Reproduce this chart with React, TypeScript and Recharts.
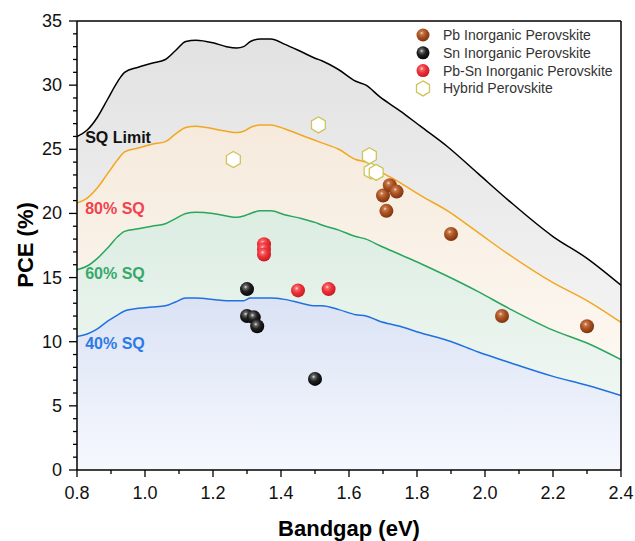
import React from "react"
import {
  ComposedChart,
  Area,
  Scatter,
  XAxis,
  YAxis,
  ReferenceLine,
  ReferenceDot,
  Legend,
  Label,
} from "recharts"

// SQ limit curve and its 80/60/40 % fractions
const bandgap = [0.8, 0.83, 0.86, 0.89, 0.92, 0.94, 0.98, 1.02, 1.06, 1.09, 1.12, 1.15, 1.2, 1.24, 1.27, 1.29, 1.31, 1.34, 1.37, 1.41, 1.46, 1.5, 1.52, 1.57, 1.62, 1.65, 1.69, 1.75, 1.81, 1.89, 1.98, 2.07, 2.2, 2.3, 2.4]
const sqLimit = [26.0, 26.5, 27.5, 28.9, 30.3, 31.0, 31.4, 31.7, 32.0, 32.7, 33.4, 33.5, 33.3, 33.0, 32.9, 33.0, 33.4, 33.6, 33.6, 33.2, 32.6, 32.1, 31.9, 31.2, 30.3, 30.0, 29.1, 28.0, 26.8, 25.2, 23.1, 21.0, 18.2, 16.5, 14.4]
const sq80 = [20.8, 21.2, 22.0, 23.1, 24.2, 24.8, 25.1, 25.4, 25.6, 26.2, 26.7, 26.8, 26.6, 26.4, 26.3, 26.4, 26.7, 26.9, 26.9, 26.6, 26.1, 25.7, 25.5, 25.0, 24.2, 24.0, 23.3, 22.4, 21.4, 20.2, 18.5, 16.8, 14.6, 13.2, 11.5]
const sq60 = [15.6, 15.9, 16.5, 17.3, 18.2, 18.6, 18.8, 19.0, 19.2, 19.6, 20.0, 20.1, 20.0, 19.8, 19.7, 19.8, 20.0, 20.2, 20.2, 19.9, 19.6, 19.3, 19.1, 18.7, 18.2, 18.0, 17.5, 16.8, 16.1, 15.1, 13.9, 12.6, 10.9, 9.9, 8.6]
const sq40 = [10.4, 10.6, 11.0, 11.6, 12.1, 12.4, 12.6, 12.7, 12.8, 13.1, 13.4, 13.4, 13.3, 13.2, 13.2, 13.2, 13.4, 13.4, 13.4, 13.3, 13.0, 12.8, 12.8, 12.5, 12.1, 12.0, 11.6, 11.2, 10.7, 10.1, 9.2, 8.4, 7.3, 6.6, 5.8]

// device points
const pbX = [1.7, 1.72, 1.74, 1.71, 1.9, 2.05, 2.3]
const pbY = [21.4, 22.2, 21.7, 20.2, 18.4, 12.0, 11.2]
const snX = [1.3, 1.3, 1.32, 1.33, 1.5]
const snY = [14.1, 12.0, 11.9, 11.2, 7.1]
const pbSnX = [1.35, 1.35, 1.35, 1.45, 1.54]
const pbSnY = [17.6, 17.2, 16.8, 14.0, 14.1]
const hybridX = [1.26, 1.51, 1.66, 1.665, 1.68]
const hybridY = [24.2, 26.9, 24.5, 23.3, 23.2]

const xTicks = [0.8, 0.9, 1.0, 1.1, 1.2, 1.3, 1.4, 1.5, 1.6, 1.7, 1.8, 1.9, 2.0, 2.1, 2.2, 2.3, 2.4]
const yTicks = Array.from({ length: 36 }, (_, i) => i)

const seriesNames = ["Pb Inorganic Perovskite", "Sn Inorganic Perovskite", "Pb-Sn Inorganic Perovskite", "Hybrid Perovskite"]

const curveData = bandgap.map((x, i) => ({ x, sq: sqLimit[i], sq80: sq80[i], sq60: sq60[i], sq40: sq40[i] }))
const toPoints = (xs: number[], ys: number[]) => xs.map((x, i) => ({ x, y: ys[i] }))

const FONT = '"Liberation Sans", Arial, sans-serif'

function hexPoints(cx: number, cy: number, r: number) {
  const pts: string[] = []
  for (let k = 0; k < 6; k++) {
    const a = (Math.PI / 3) * k - Math.PI / 2
    pts.push(`${cx + r * Math.cos(a)},${cy + r * Math.sin(a)}`)
  }
  return pts.join(" ")
}

const Hex = ({ cx, cy, r = 8 }: any) => (
  <polygon points={hexPoints(cx, cy, r)} fill="#ffffff" stroke="#cdc55a" strokeWidth={1.3} />
)

const Ball = ({ cx, cy, grad, r = 7 }: any) => <circle cx={cx} cy={cy} r={r} fill={`url(#${grad})`} />

const YTick = (props: any) => {
  const { x, y, payload } = props
  const v = payload.value
  const major = v % 5 === 0
  return (
    <g>
      <line x1={x - (major ? 8 : 4)} x2={x} y1={y} y2={y} stroke="#000" strokeWidth={1.3} />
      {major && (
        <text x={x - 15} y={y + 6} textAnchor="end" fontSize={18} fill="#111" fontFamily={FONT}>
          {v}
        </text>
      )}
    </g>
  )
}

const XTick = (props: any) => {
  const { x, y, payload } = props
  const v = payload.value
  const major = Math.round(v * 10) % 2 === 0
  return (
    <g>
      <line x1={x} x2={x} y1={y} y2={y + (major ? 7 : 4)} stroke="#000" strokeWidth={1.3} />
      {major && (
        <text x={x} y={y + 29} textAnchor="middle" fontSize={18} fill="#111" fontFamily={FONT}>
          {v.toFixed(1)}
        </text>
      )}
    </g>
  )
}

const legendKinds = ["ballPb", "ballSn", "ballPbSn", "hex"]

const LegendBox = () => (
  <svg width={220} height={80} style={{ display: "block", overflow: "visible" }}>
    {seriesNames.map((name, i) => (
      <g key={name} transform={`translate(0, ${i * 17.8})`}>
        {legendKinds[i] === "hex" ? <Hex cx={7} cy={9} r={7.5} /> : <Ball cx={7} cy={9} r={6.5} grad={legendKinds[i]} />}
        <text x={27} y={14} fontSize={14} fill="#333" fontFamily={FONT}>
          {name}
        </text>
      </g>
    ))}
  </svg>
)

const curveLabel = (text: string, color: string) => ({
  value: text,
  position: "right" as const,
  offset: 0,
  fill: color,
  fontSize: 16,
  fontWeight: "bold",
  fontFamily: FONT,
})

export default function App() {
  return (
    <div style={{ position: "absolute", left: 8, top: 8, width: 627, height: 533 }}>
      <ComposedChart
        width={627}
        height={533}
        data={curveData}
        margin={{ top: 13, right: 14, bottom: 0, left: 0 }}
        style={{ fontFamily: FONT }}
      >
        <defs>
          <linearGradient id="gSq" x1="0" y1="0" x2="0" y2="1">
            <stop offset="0%" stopColor="#e2e2e2" />
            <stop offset="60%" stopColor="#f1f1f1" />
            <stop offset="100%" stopColor="#fafafa" />
          </linearGradient>
          <linearGradient id="g80" x1="0" y1="0" x2="0" y2="1">
            <stop offset="0%" stopColor="#f5eadc" />
            <stop offset="60%" stopColor="#fcf6ef" />
            <stop offset="100%" stopColor="#fefbf8" />
          </linearGradient>
          <linearGradient id="g60" x1="0" y1="0" x2="0" y2="1">
            <stop offset="0%" stopColor="#dcede2" />
            <stop offset="60%" stopColor="#ecf5ef" />
            <stop offset="100%" stopColor="#f6faf7" />
          </linearGradient>
          <linearGradient id="g40" x1="0" y1="0" x2="0" y2="1">
            <stop offset="0%" stopColor="#dae2f4" />
            <stop offset="100%" stopColor="#f6f8fe" />
          </linearGradient>
          <radialGradient id="ballPb" cx="40%" cy="35%" r="65%">
            <stop offset="0%" stopColor="#f3e4dc" />
            <stop offset="18%" stopColor="#c77a4c" />
            <stop offset="50%" stopColor="#ac5222" />
            <stop offset="100%" stopColor="#7c3410" />
          </radialGradient>
          <radialGradient id="ballSn" cx="40%" cy="35%" r="65%">
            <stop offset="0%" stopColor="#e8e8e8" />
            <stop offset="18%" stopColor="#6a6a6a" />
            <stop offset="50%" stopColor="#222222" />
            <stop offset="100%" stopColor="#050505" />
          </radialGradient>
          <radialGradient id="ballPbSn" cx="40%" cy="35%" r="65%">
            <stop offset="0%" stopColor="#ffe4e4" />
            <stop offset="18%" stopColor="#f56a6e" />
            <stop offset="50%" stopColor="#ee3238" />
            <stop offset="100%" stopColor="#c51b22" />
          </radialGradient>
        </defs>

        <XAxis
          dataKey="x"
          type="number"
          domain={[0.8, 2.4]}
          ticks={xTicks}
          interval={0}
          allowDataOverflow
          height={71}
          tickSize={0}
          tickMargin={0}
          tickLine={false}
          tick={<XTick />}
          axisLine={{ stroke: "#000", strokeWidth: 1.5 }}
        >
          <Label
            content={({ viewBox }: any) => (
              <text
                x={viewBox.x + viewBox.width / 2}
                y={viewBox.y + 66}
                textAnchor="middle"
                fontSize={22}
                fontWeight="bold"
                fill="#000"
                fontFamily={FONT}
              >
                Bandgap (eV)
              </text>
            )}
          />
        </XAxis>
        <YAxis
          type="number"
          domain={[0, 35]}
          ticks={yTicks}
          interval={0}
          allowDataOverflow
          width={69}
          tickSize={0}
          tickMargin={0}
          tickLine={false}
          tick={<YTick />}
          axisLine={{ stroke: "#000", strokeWidth: 1.5 }}
        >
          <Label
            content={() => (
              <text
                x={25}
                y={237}
                transform="rotate(-90, 25, 237)"
                textAnchor="middle"
                fontSize={22}
                fontWeight="bold"
                fill="#000"
                fontFamily={FONT}
              >
                PCE (%)
              </text>
            )}
          />
        </YAxis>

        <Area type="monotone" dataKey="sq" stroke="#000" strokeWidth={1.5} fill="url(#gSq)" fillOpacity={1} dot={false} activeDot={false} isAnimationActive={false} legendType="none" />
        <Area type="monotone" dataKey="sq80" stroke="#f3a61f" strokeWidth={1.5} fill="url(#g80)" fillOpacity={1} dot={false} activeDot={false} isAnimationActive={false} legendType="none" />
        <Area type="monotone" dataKey="sq60" stroke="#28a65c" strokeWidth={1.5} fill="url(#g60)" fillOpacity={1} dot={false} activeDot={false} isAnimationActive={false} legendType="none" />
        <Area type="monotone" dataKey="sq40" stroke="#1f70e2" strokeWidth={1.5} fill="url(#g40)" fillOpacity={1} dot={false} activeDot={false} isAnimationActive={false} legendType="none" />

        <ReferenceLine y={35} stroke="#000" strokeWidth={1.5} />
        <ReferenceLine x={2.4} stroke="#000" strokeWidth={1.5} />

        <ReferenceDot x={0.824} y={25.9} r={0} fill="none" stroke="none" label={curveLabel("SQ Limit", "#111")} />
        <ReferenceDot x={0.824} y={20.4} r={0} fill="none" stroke="none" label={curveLabel("80% SQ", "#f0434e")} />
        <ReferenceDot x={0.824} y={15.3} r={0} fill="none" stroke="none" label={curveLabel("60% SQ", "#36a96a")} />
        <ReferenceDot x={0.824} y={9.9} r={0} fill="none" stroke="none" label={curveLabel("40% SQ", "#2d7ae6")} />

        <Scatter name={seriesNames[0]} data={toPoints(pbX, pbY)} dataKey="y" isAnimationActive={false} shape={(p: any) => <Ball cx={p.cx} cy={p.cy} grad="ballPb" />} />
        <Scatter name={seriesNames[1]} data={toPoints(snX, snY)} dataKey="y" isAnimationActive={false} shape={(p: any) => <Ball cx={p.cx} cy={p.cy} grad="ballSn" />} />
        <Scatter name={seriesNames[2]} data={toPoints(pbSnX, pbSnY)} dataKey="y" isAnimationActive={false} shape={(p: any) => <Ball cx={p.cx} cy={p.cy} grad="ballPbSn" />} />
        <Scatter name={seriesNames[3]} data={toPoints(hybridX, hybridY)} dataKey="y" isAnimationActive={false} shape={(p: any) => <Hex cx={p.cx} cy={p.cy} r={8} />} />

        <Legend
          layout="vertical"
          align="center"
          verticalAlign="middle"
          wrapperStyle={{ left: 408, top: 18, width: 220, height: 80 }}
          content={() => <LegendBox />}
        />
      </ComposedChart>
    </div>
  )
}
